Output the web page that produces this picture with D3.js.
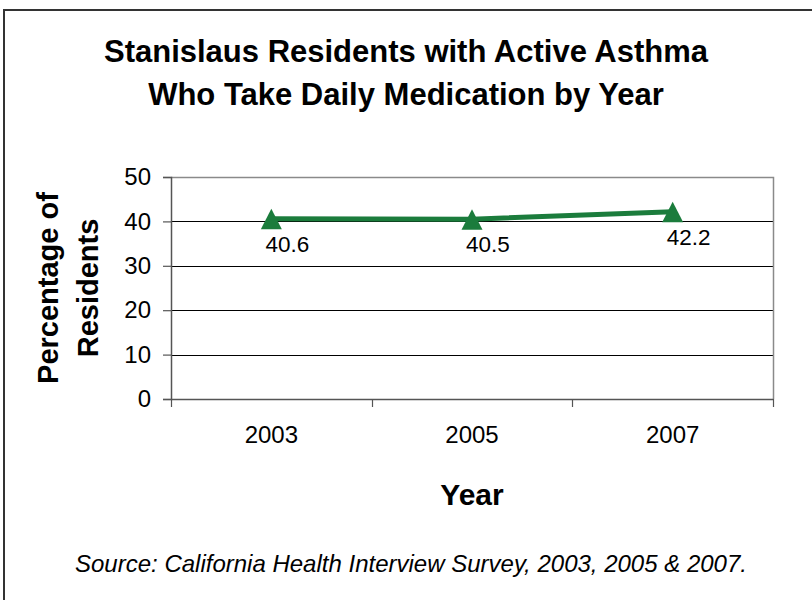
<!DOCTYPE html>
<html>
<head>
<meta charset="utf-8">
<script src="https://cdn.jsdelivr.net/npm/d3@7"></script>
<style>
  html, body { margin: 0; padding: 0; background: #fff; }
  svg { display: block; font-family: "Liberation Sans", Arial, sans-serif; }
</style>
</head>
<body>
<svg id="chart" width="812" height="600"></svg>
<script>
// Survey years and share of residents with active asthma on daily medication (%)
const years = ["2003", "2005", "2007"];
const percentages = [40.6, 40.5, 42.2];
const yTicks = [0, 10, 20, 30, 40, 50];

const titleLines = [
  "Stanislaus Residents with Active Asthma",
  "Who Take Daily Medication by Year"
];
const yTitleLines = ["Percentage of", "Residents"];
const xTitle = "Year";
const sourceNote = "Source: California Health Interview Survey, 2003, 2005 & 2007.";

const W = 812, H = 600;
const plot = { left: 171, right: 773, top: 177, bottom: 399 };
const lineColor = "#1b7c3c";

const svg = d3.select("#chart");
svg.append("rect").attr("width", W).attr("height", H).attr("fill", "#fff");

// Outer frame (left and top edges)
svg.append("path")
  .attr("d", `M4,${H} L4,10 L${W},10`)
  .attr("fill", "none").attr("stroke", "#333").attr("stroke-width", 2);

const x = d3.scaleBand().domain(years).range([plot.left, plot.right]);
const y = d3.scaleLinear().domain([0, 50]).range([plot.bottom, plot.top]);

// Horizontal gridlines
svg.append("g").selectAll("line")
  .data(yTicks.filter(t => t > 0 && t < 50))
  .join("line")
  .attr("x1", plot.left).attr("x2", plot.right)
  .attr("y1", d => Math.round(y(d)) + 0.5).attr("y2", d => Math.round(y(d)) + 0.5)
  .attr("stroke", "#000").attr("stroke-width", 1);

// Plot border top and right
svg.append("path")
  .attr("d", `M${plot.left},${plot.top + 0.5} L${plot.right + 0.5},${plot.top + 0.5} L${plot.right + 0.5},${plot.bottom}`)
  .attr("fill", "none").attr("stroke", "#8a8a8a").attr("stroke-width", 1.5);

// Y axis
const yAxis = svg.append("g")
  .attr("transform", `translate(${plot.left},0)`)
  .call(d3.axisLeft(y).tickValues(yTicks).tickSize(8).tickPadding(12).tickFormat(d3.format("d")));
yAxis.select(".domain").attr("stroke", "#555").attr("stroke-width", 1.5);
yAxis.selectAll(".tick line").attr("stroke", "#555").attr("stroke-width", 1.2);
yAxis.selectAll(".tick text")
  .attr("font-size", 24).attr("fill", "#000")
  .attr("font-family", "Liberation Sans, Arial, sans-serif");

// X axis with ticks at band boundaries
const xAxisG = svg.append("g").attr("transform", `translate(0,${plot.bottom})`);
xAxisG.append("line")
  .attr("x1", plot.left).attr("x2", plot.right + 0.5)
  .attr("y1", 0.5).attr("y2", 0.5)
  .attr("stroke", "#555").attr("stroke-width", 1.5);
const boundaries = years.map(d => x(d)).concat([x(years[years.length - 1]) + x.bandwidth()]);
xAxisG.selectAll("line.tk").data(boundaries).join("line").attr("class", "tk")
  .attr("x1", d => Math.round(d) + 0.5).attr("x2", d => Math.round(d) + 0.5)
  .attr("y1", 0).attr("y2", 8)
  .attr("stroke", "#555").attr("stroke-width", 1.2);
xAxisG.selectAll("text").data(years).join("text")
  .attr("x", d => x(d) + x.bandwidth() / 2)
  .attr("y", 44)
  .attr("text-anchor", "middle")
  .attr("font-size", 24)
  .text(d => d);

// Series line
const pts = years.map((d, i) => ({ year: d, value: percentages[i] }));
const cx = d => x(d.year) + x.bandwidth() / 2;
svg.append("path")
  .datum(pts)
  .attr("d", d3.line().x(cx).y(d => y(d.value)))
  .attr("fill", "none").attr("stroke", lineColor).attr("stroke-width", 5);

// Triangle markers
svg.append("g").selectAll("path")
  .data(pts)
  .join("path")
  .attr("d", d => {
    const px = cx(d), py = y(d.value);
    return `M${px},${py - 10} L${px + 10.5},${py + 10.5} L${px - 10.5},${py + 10.5} Z`;
  })
  .attr("fill", lineColor);

// Value labels
svg.append("g").selectAll("text")
  .data(pts)
  .join("text")
  .attr("x", d => cx(d) + 16)
  .attr("y", d => y(d.value) + 33)
  .attr("text-anchor", "middle")
  .attr("font-size", 22.5)
  .attr("fill", "#000")
  .text(d => d.value.toFixed(1));

// Title
svg.append("text")
  .attr("text-anchor", "middle")
  .attr("font-size", 31).attr("font-weight", "bold")
  .selectAll("tspan").data(titleLines).join("tspan")
  .attr("x", 406).attr("y", (d, i) => 62 + i * 43)
  .text(d => d);

// Y axis title
svg.append("text")
  .attr("transform", `translate(0,${(plot.top + plot.bottom) / 2}) rotate(-90)`)
  .attr("text-anchor", "middle")
  .attr("font-size", 29).attr("font-weight", "bold")
  .selectAll("tspan").data(yTitleLines).join("tspan")
  .attr("x", 0).attr("y", (d, i) => 58 + i * 40)
  .text(d => d);

// X axis title
svg.append("text")
  .attr("x", (plot.left + plot.right) / 2).attr("y", 505)
  .attr("text-anchor", "middle")
  .attr("font-size", 30).attr("font-weight", "bold")
  .text(xTitle);

// Source note
svg.append("text")
  .attr("x", 411).attr("y", 572)
  .attr("text-anchor", "middle")
  .attr("font-size", 24).attr("font-style", "italic")
  .text(sourceNote);
</script>
</body>
</html>
